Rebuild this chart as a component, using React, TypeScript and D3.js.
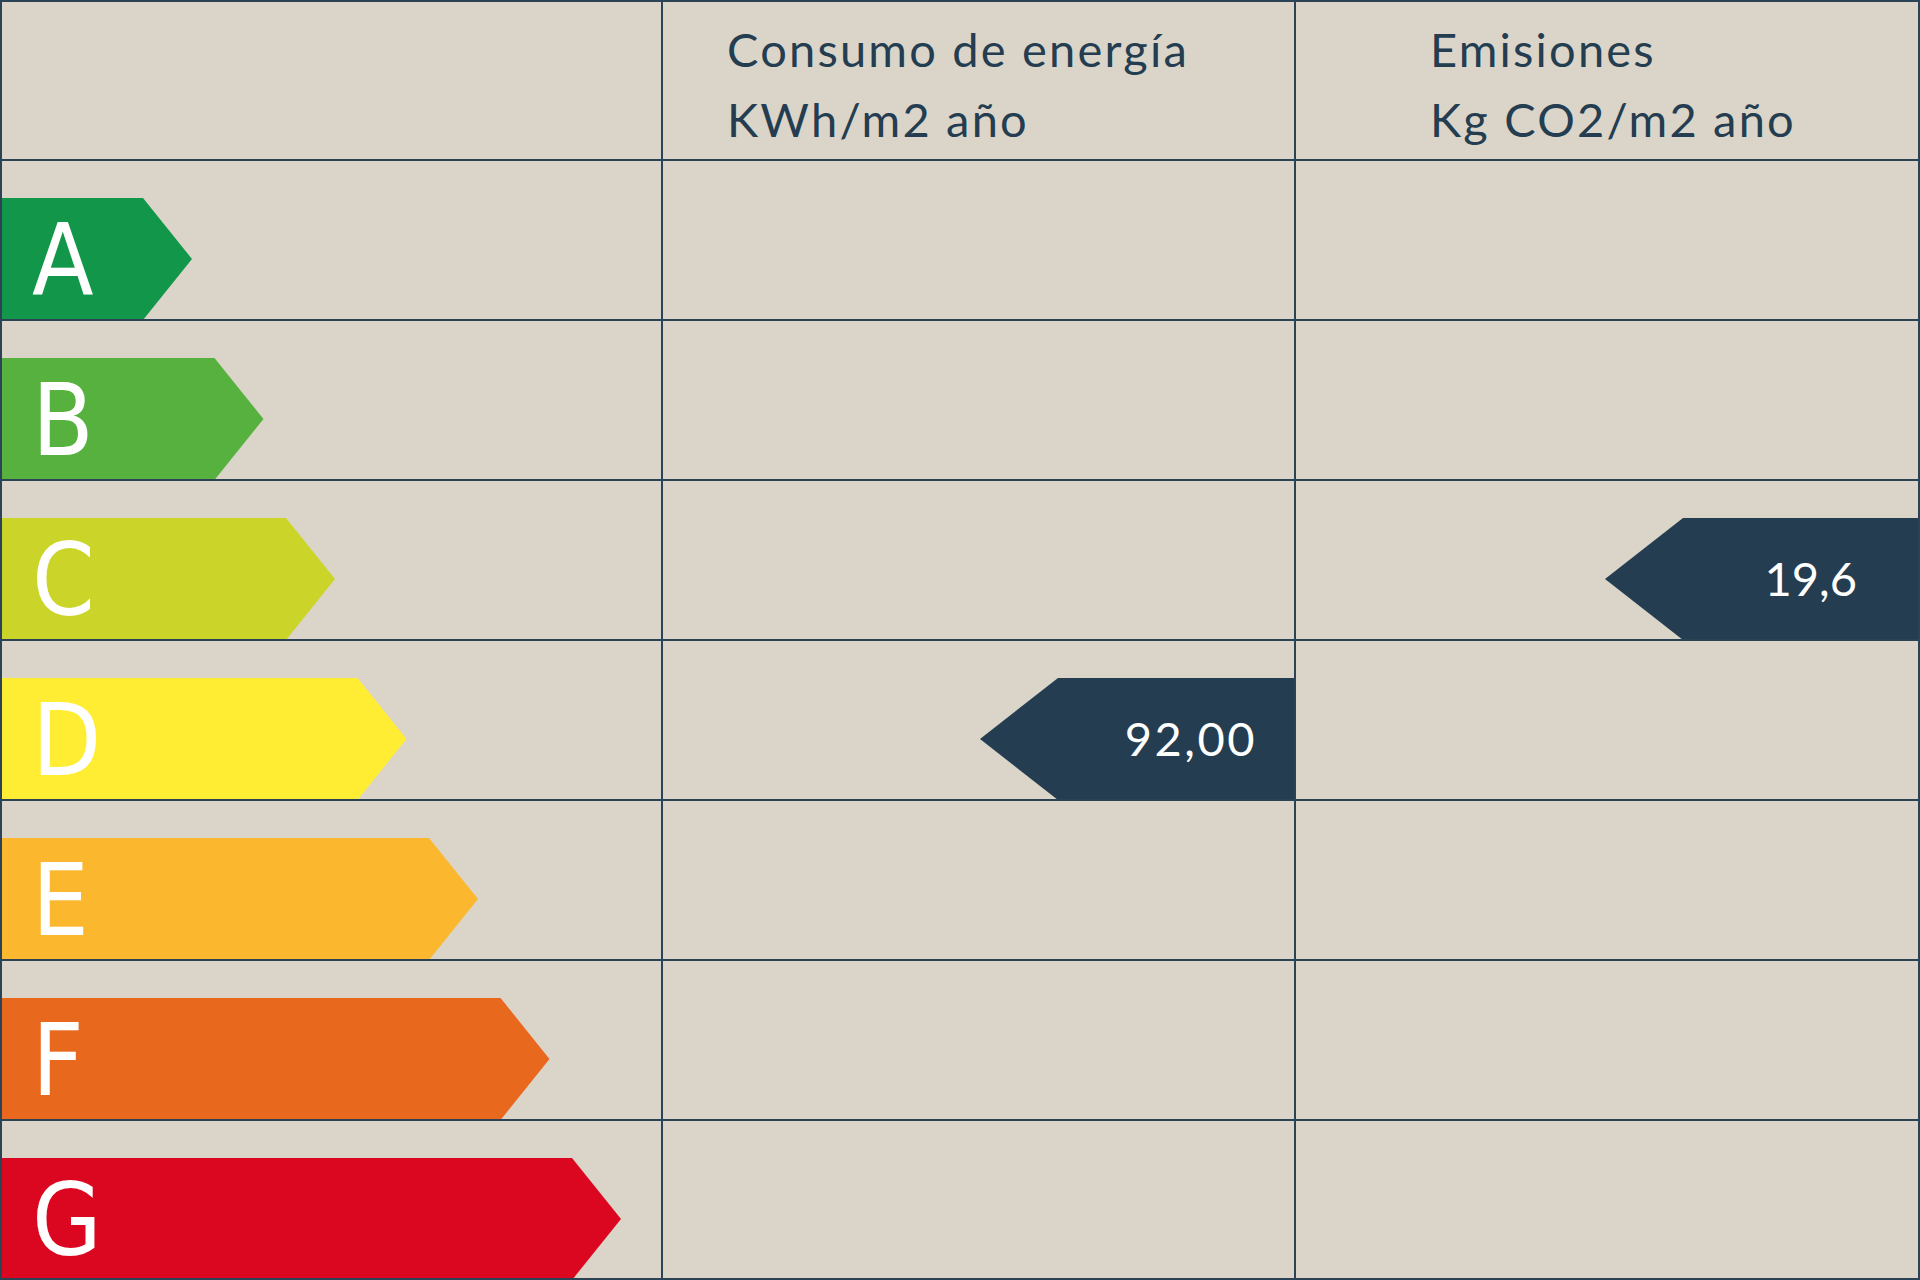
import { useEffect, useRef } from "react"
import * as d3 from "d3"

// energy classes, from best to worst
const classes = ["A", "B", "C", "D", "E", "F", "G"]
const classColors = ["#12974a", "#57b13f", "#cbd428", "#ffed34", "#fbb72e", "#e8681e", "#db0720"]

const columnTitles = [
  ["Consumo de energía", "KWh/m2 año"],
  ["Emisiones", "Kg CO2/m2 año"],
]
const ratingClass = ["D", "C"]
const ratingLabel = ["92,00", "19,6"]

const W = 1920
const H = 1280
const HEADER = 160
const COLS = [662, 1295, W]
const BG = "#dbd5c9"
const INK = "#2b4354"
const DARK = "#243d50"

const App = () => {
  const ref = useRef<SVGSVGElement>(null)

  useEffect(() => {
    const svg = d3.select(ref.current)
    svg.selectAll("*").remove()

    svg.append("rect").attr("width", W).attr("height", H).attr("fill", BG)

    const y = d3.scaleBand().domain(classes).range([HEADER, H]).paddingInner(0)
    const band = y.bandwidth()
    const arrowTop = 38

    // class arrows: rect end grows with class index
    const len = d3.scaleLinear().domain([0, classes.length - 1]).range([143, 572])
    const tip = 49

    const g = svg.append("g")
    g.selectAll("path.cls")
      .data(classes)
      .join("path")
      .attr("class", "cls")
      .attr("fill", (_, i) => classColors[i])
      .attr("d", (c, i) => {
        const t = (y(c) as number) + arrowTop
        const b = (y(c) as number) + band
        const e = len(i)
        return `M0,${t}H${e}L${e + tip},${(t + b) / 2}L${e},${b}H0Z`
      })

    g.selectAll("text.cls")
      .data(classes)
      .join("text")
      .attr("class", "cls")
      .attr("x", 32)
      .attr("y", (c) => (y(c) as number) + (arrowTop + band) / 2)
      .attr("dy", "0.36em")
      .attr("fill", "#fff")
      .attr("font-family", "'DejaVu Sans Condensed', 'DejaVu Sans', sans-serif")
      .attr("font-size", 100)
      .text((c) => c)

    // rating arrows in each column
    ratingClass.forEach((c, i) => {
      const right = COLS[i + 1]
      const t = (y(c) as number) + arrowTop
      const b = (y(c) as number) + band
      const start = right - 237
      svg.append("path")
        .attr("fill", DARK)
        .attr("d", `M${right},${t}H${start}L${start - 78},${(t + b) / 2}L${start},${b}H${right}Z`)
      svg.append("text")
        .attr("x", right - (i === 0 ? 38 : 63))
        .attr("y", (t + b) / 2)
        .attr("dy", "0.36em")
        .attr("text-anchor", "end")
        .attr("fill", "#fff")
        .attr("font-family", "Lato, sans-serif")
        .attr("font-size", 47)
        .attr("letter-spacing", i === 0 ? 2.5 : 0)
        .text(ratingLabel[i])
    })

    // headers
    columnTitles.forEach((lines, i) => {
      const x0 = i === 0 ? 727 : 1430
      lines.forEach((l, j) => {
        svg.append("text")
          .attr("x", x0)
          .attr("y", 67 + j * 70)
          .attr("fill", DARK)
          .attr("font-family", "Lato, sans-serif")
          .attr("font-size", 47)
          .attr("letter-spacing", 2.2)
          .text(l)
      })
    })

    // grid
    const grid = svg.append("g").attr("stroke", INK).attr("stroke-width", 2)
    grid.selectAll("line.h")
      .data([HEADER, ...classes.map((c) => (y(c) as number) + band)])
      .join("line")
      .attr("x1", 0)
      .attr("x2", W)
      .attr("y1", (d) => Math.min(d, H - 1))
      .attr("y2", (d) => Math.min(d, H - 1))
    grid.selectAll("line.v")
      .data([0, ...COLS])
      .join("line")
      .attr("y1", 0)
      .attr("y2", H)
      .attr("x1", (d) => Math.min(Math.max(d, 1), W - 1))
      .attr("x2", (d) => Math.min(Math.max(d, 1), W - 1))
    grid.append("line").attr("x1", 0).attr("x2", W).attr("y1", 1).attr("y2", 1)
  }, [])

  return (
    <svg
      ref={ref}
      width={W}
      height={H}
      style={{ position: "absolute", left: 0, top: 0, display: "block" }}
    />
  )
}

export default App
